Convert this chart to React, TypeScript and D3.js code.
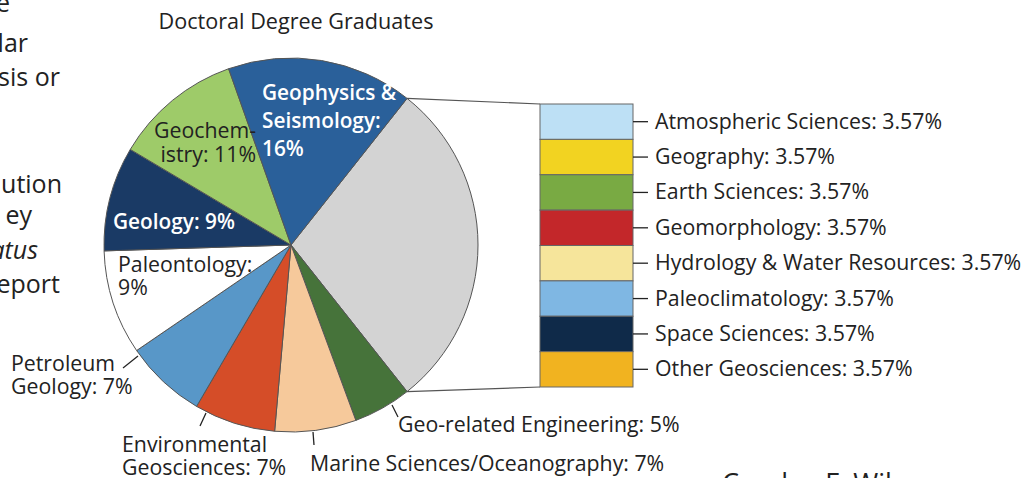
import * as d3 from 'd3';

// pie data (clockwise, starting with the "other" wedge that gets broken out into the bar)
const pieNames = [
    'Other',
    'Geo-related Engineering',
    'Marine Sciences/Oceanography',
    'Environmental Geosciences',
    'Petroleum Geology',
    'Paleontology',
    'Geology',
    'Geochemistry',
    'Geophysics & Seismology',
];
const pieValues = [28.56, 5, 7, 7, 7, 9, 9, 11, 16];
const pieColors = ['#d3d3d3', '#46733a', '#f6c99b', '#d54d28', '#5897c8', '#ffffff', '#1a3a65', '#9ecb69', '#2a609a'];

// the breakout bar
const barNames = [
    'Atmospheric Sciences',
    'Geography',
    'Earth Sciences',
    'Geomorphology',
    'Hydrology & Water Resources',
    'Paleoclimatology',
    'Space Sciences',
    'Other Geosciences',
];
const barValues = [3.57, 3.57, 3.57, 3.57, 3.57, 3.57, 3.57, 3.57];
const barColors = ['#bde0f5', '#f2d321', '#79aa43', '#c3272a', '#f6e59b', '#7fb7e3', '#0f2a49', '#f1b320'];

// labels inside / around the pie
type PieLabel = { lines: string[]; x: number; y: number; dy: number; anchor: string; color: string; weight: number; leader?: number[] };
const pieLabels: PieLabel[] = [
    { lines: ['Geophysics &', 'Seismology:', '16%'], x: 262, y: 100, dy: 28, anchor: 'start', color: '#fff', weight: 600 },
    { lines: ['Geochem-', 'istry: 11%'], x: 256, y: 138, dy: 24, anchor: 'end', color: '#222', weight: 400 },
    { lines: ['Geology: 9%'], x: 113, y: 229, dy: 0, anchor: 'start', color: '#fff', weight: 600 },
    { lines: ['Paleontology:', '9%'], x: 118, y: 272, dy: 23, anchor: 'start', color: '#222', weight: 400 },
    { lines: ['Petroleum', 'Geology: 7%'], x: 11, y: 371, dy: 23, anchor: 'start', color: '#222', weight: 400, leader: [123, 368, 138, 356] },
    { lines: ['Environmental', 'Geosciences: 7%'], x: 122, y: 452, dy: 23, anchor: 'start', color: '#222', weight: 400, leader: [200, 426, 206, 413] },
    { lines: ['Marine Sciences/Oceanography: 7%'], x: 310, y: 471, dy: 0, anchor: 'start', color: '#222', weight: 400, leader: [314, 445, 313, 432] },
    { lines: ['Geo-related Engineering: 5%'], x: 398, y: 432, dy: 0, anchor: 'start', color: '#222', weight: 400, leader: [398, 417, 392, 405] },
];

// surrounding page text that is cut off by the crop
const sideLines = ['e', 'lar', 'sis or', 'ution', 'ey', 'atus', 'eport'];
const sideEnds = [10, 28, 60, 62, 32, 38, 60];
const sideBaselines = [12, 52, 86, 193, 224, 259, 293];
const sideItalic = [false, false, false, false, false, true, false];

const WIDTH = 1024;
const HEIGHT = 478;
const CX = 291;
const CY = 245;
const R = 187;
const BAR = { x: 540, y: 104, w: 93, h: 283 };
const FONT = "'Myriad Pro', 'Open Sans', sans-serif";
const LABEL_SIZE = 21.3;

const toXY = (a: number, r: number) => [CX + r * Math.sin(a), CY - r * Math.cos(a)];

export default function App() {
    const total = d3.sum(pieValues);
    // center the broken-out wedge on 3 o'clock
    const start = Math.PI / 2 - (pieValues[0] / total) * Math.PI;
    const arcs = d3
        .pie<number>()
        .sort(null)
        .value((d) => d)
        .startAngle(start)
        .endAngle(start + 2 * Math.PI)(pieValues);
    const arcGen = d3.arc<d3.PieArcDatum<number>>().innerRadius(0).outerRadius(R);

    const yScale = d3.scaleLinear().domain([0, d3.sum(barValues)]).range([BAR.y, BAR.y + BAR.h]);
    const cum = d3.cumsum(barValues);

    const other = arcs[0];
    const [tx, ty] = toXY(other.startAngle, R);
    const [bx, by] = toXY(other.endAngle, R);

    return (
        <svg width={WIDTH} height={HEIGHT} style={{ position: 'absolute', left: 0, top: 0 }} fontFamily={FONT}>
            <rect width={WIDTH} height={HEIGHT} fill="#fff" />
            {sideLines.map((t, i) => (
                <text key={i} x={sideEnds[i]} y={sideBaselines[i]} textAnchor="end" fontSize={25} fill="#222" fontStyle={sideItalic[i] ? 'italic' : 'normal'}>
                    {t}
                </text>
            ))}
            <text x={296} y={29} textAnchor="middle" fontSize={21.6} fill="#222">
                Doctoral Degree Graduates
            </text>

            {/* connector lines */}
            <line x1={tx} y1={ty} x2={BAR.x} y2={BAR.y} stroke="#555" strokeWidth={1.2} />
            <line x1={bx} y1={by} x2={BAR.x} y2={BAR.y + BAR.h} stroke="#555" strokeWidth={1.2} />

            <g transform={`translate(${CX},${CY})`}>
                {arcs.map((a, i) => (
                    <path key={i} d={arcGen(a) || ''} fill={pieColors[i]} stroke="#555" strokeWidth={1} />
                ))}
            </g>

            {pieLabels.map((l, i) => (
                <g key={i}>
                    {l.leader && <line x1={l.leader[0]} y1={l.leader[1]} x2={l.leader[2]} y2={l.leader[3]} stroke="#222" strokeWidth={1.3} />}
                    <text x={l.x} y={l.y} textAnchor={l.anchor} fontSize={l.weight > 400 ? 20.8 : LABEL_SIZE} fill={l.color} fontWeight={l.weight}>
                        {l.lines.map((s, j) => (
                            <tspan key={j} x={l.x} dy={j === 0 ? 0 : l.dy}>
                                {s}
                            </tspan>
                        ))}
                    </text>
                </g>
            ))}

            {barValues.map((v, i) => {
                const y0 = yScale(cum[i] - v);
                const y1 = yScale(cum[i]);
                return (
                    <g key={i}>
                        <rect x={BAR.x} y={y0} width={BAR.w} height={y1 - y0} fill={barColors[i]} stroke="#666" strokeWidth={1} />
                        <line x1={BAR.x + BAR.w} x2={BAR.x + BAR.w + 15} y1={(y0 + y1) / 2} y2={(y0 + y1) / 2} stroke="#222" strokeWidth={1.3} />
                        <text x={655} y={(y0 + y1) / 2 + 7} fontSize={LABEL_SIZE} fill="#222">
                            {`${barNames[i]}: ${v.toFixed(2)}%`}
                        </text>
                    </g>
                );
            })}

            <text x={722} y={493} fontSize={27} fill="#222">
                Carolyn F. Wilson
            </text>
        </svg>
    );
}
